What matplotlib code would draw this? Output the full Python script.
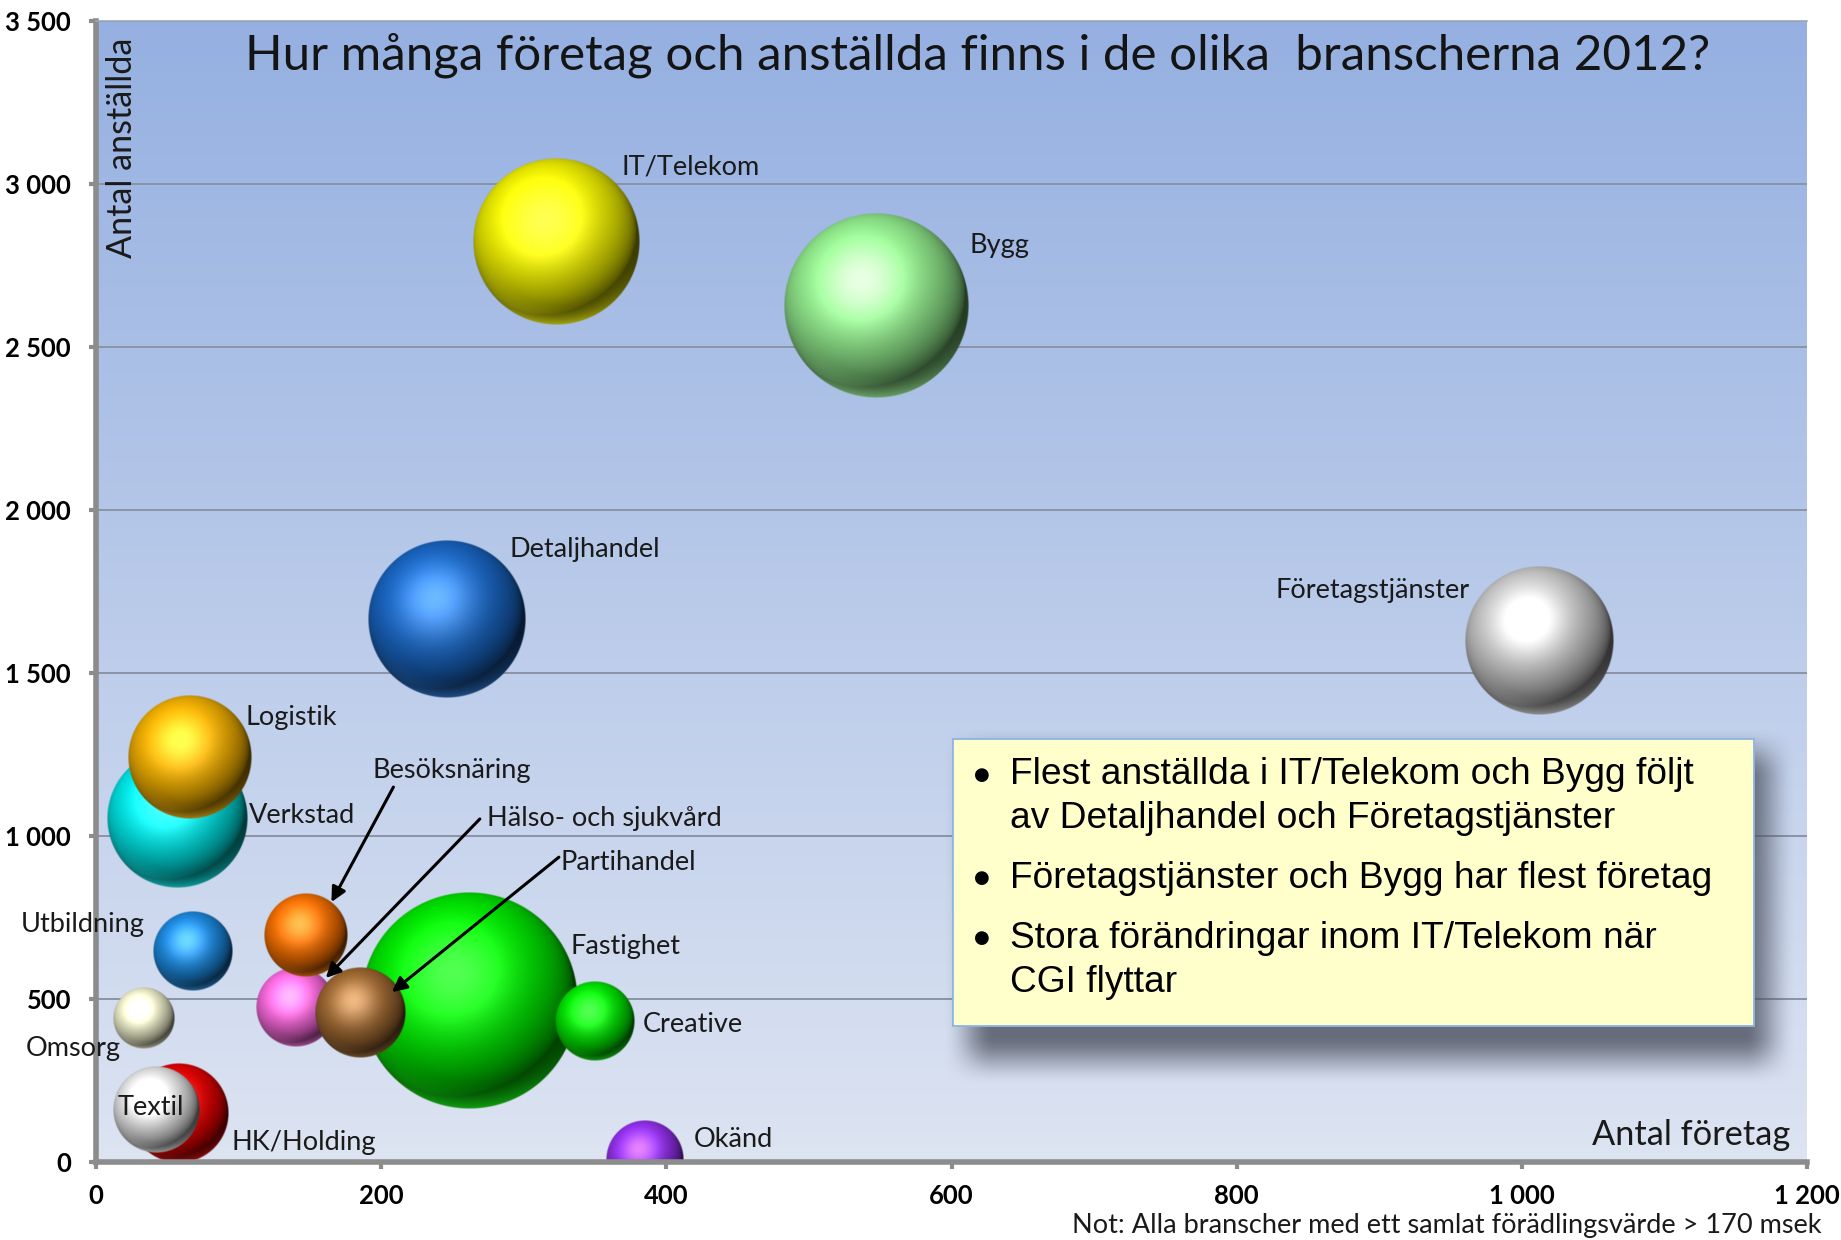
import numpy as np
import matplotlib
matplotlib.use("Agg")
import matplotlib.pyplot as plt
from matplotlib.patches import Rectangle
from matplotlib.ticker import FuncFormatter
from matplotlib.transforms import offset_copy

# ---------------- data ----------------
branches = ["IT/Telekom", "Bygg", "Detaljhandel", "Företagstjänster", "Verkstad",
            "Logistik", "Utbildning", "Omsorg", "Fastighet", "Creative",
            "Hälso- och sjukvård", "Besöksnäring", "Partihandel", "HK/Holding",
            "Textil", "Okänd"]
antal_foretag = [323, 547, 246, 1012, 57, 66, 68, 34, 262, 350, 140, 147, 185, 58, 42, 385]
antal_anstallda = [2823, 2625, 1664, 1600, 1054, 1241, 647, 441, 494, 432, 475, 696, 457, 150, 159, 8]
bubble_size = [69, 85, 62, 55, 49, 38, 16, 9.6, 117, 16, 16, 17.6, 20.3, 25, 18.5, 15.2]
bubble_colors = ["#e8e800", "#8fe68a", "#1862bc", "#c4c4c4", "#00e0e0",
                 "#eaaa00", "#1a82d4", "#e8e8c6", "#00e000", "#00dc00",
                 "#f064d4", "#ea6a00", "#96622e", "#de0000", "#dedede", "#8e2ee4"]
y_ticks = [0, 500, 1000, 1500, 2000, 2500, 3000, 3500]
x_ticks = [0, 200, 400, 600, 800, 1000, 1200]

title = "Hur många företag och anställda finns i de olika  branscherna 2012?"
bullets = [["Flest anställda i IT/Telekom och Bygg följt", "av Detaljhandel och Företagstjänster"],
           ["Företagstjänster och Bygg har flest företag"],
           ["Stora förändringar inom IT/Telekom när", "CGI flyttar"]]
note = "Not: Alla branscher med ett samlat förädlingsvärde > 170 msek"

# label placement (pixel offsets from bubble centre: dx, dy(up), ha)
label_off = {
    "IT/Telekom": (65, 75, "left"), "Bygg": (94, 61, "left"),
    "Detaljhandel": (63, 70, "left"), "Företagstjänster": (-69, 50, "right"),
    "Verkstad": (72, 3, "left"), "Logistik": (55, 40, "left"),
    "Utbildning": (-48, 27, "right"), "Omsorg": (-24, -30, "right"),
    "Fastighet": (101, 54, "left"), "Creative": (48, -3, "left"),
    "Hälso- och sjukvård": (191, 189, "left"), "Besöksnäring": (67, 165, "left"),
    "Partihandel": (201, 151, "left"), "HK/Holding": (53, -29, "left"),
    "Textil": (-5, 3, "center"), "Okänd": (49, 20, "left"),
}
# arrows: (angle on bubble edge in deg, fraction of radius, start dx, start dy(up) rel. tip)
arrow_def = {
    "Besöksnäring": (52, 1.0, 62, 115),
    "Hälso- och sjukvård": (44, 1.05, 154, 159),
    "Partihandel": (33, 0.85, 167, 135),
}
draw_order = ["Verkstad", "Logistik", "IT/Telekom", "Bygg", "Detaljhandel",
              "Företagstjänster", "Utbildning", "Omsorg", "Fastighet", "Creative",
              "Hälso- och sjukvård", "Besöksnäring", "Partihandel", "HK/Holding",
              "Textil", "Okänd"]

FONT = ["Lato", "DejaVu Sans"]
plt.rcParams["font.family"] = FONT

W, H = 1841, 1240
fig = plt.figure(figsize=(W / 100, H / 100), dpi=100)
fig.patch.set_facecolor("white")
L0, R0, T0, B0 = 96, 1807, 21, 1162
ax = fig.add_axes([L0 / W, 1 - B0 / H, (R0 - L0) / W, (B0 - T0) / H])
ax.set_xlim(0, 1200)
ax.set_ylim(0, 3500)
ax_w, ax_h = R0 - L0, B0 - T0

# background gradient
grad = np.linspace(0, 1, 256)[:, None]
top = np.array([0.584, 0.690, 0.882])
bot = np.array([0.866, 0.894, 0.949])
bg = top[None, None, :] * (1 - grad[..., None]) + bot[None, None, :] * grad[..., None]
bg = np.repeat(bg, 2, axis=1)
ax.imshow(bg, extent=(0, 1, 0, 1), transform=ax.transAxes, aspect="auto", zorder=0.1,
          interpolation="bilinear")

# axes styling
ax.set_axisbelow(True)
ax.set_yticks(y_ticks)
ax.set_xticks(x_ticks)
fmt = FuncFormatter(lambda v, p: f"{int(v):,}".replace(",", " "))
ax.yaxis.set_major_formatter(fmt)
ax.xaxis.set_major_formatter(fmt)
ax.grid(axis="y", color="#8a94a6", lw=1.4)
ax.grid(axis="x", visible=False)
for s in ["left", "bottom"]:
    ax.spines[s].set_color("#8c8c8c")
    ax.spines[s].set_linewidth(4)
ax.spines["right"].set_visible(False)
ax.spines["top"].set_color("#9ca8ba")
ax.spines["top"].set_linewidth(1.2)
ax.tick_params(axis="both", colors="#8c8c8c", width=3, length=5, labelcolor="black")
ax.tick_params(axis="y", pad=13)
ax.tick_params(axis="x", pad=11)
for lab in ax.get_xticklabels() + ax.get_yticklabels():
    lab.set_fontweight("bold")
    lab.set_fontsize(18)


def sphere(base, r_px):
    n = int(max(80, 4 * r_px))
    lin = (np.arange(n) + 0.5) / n * 2 - 1
    u, v = np.meshgrid(lin, -lin)
    rho = np.sqrt(u ** 2 + v ** 2)
    z = np.sqrt(np.clip(1 - rho ** 2, 0, 1))
    Lv = np.array([-0.28, 0.48, 0.83]); Lv /= np.linalg.norm(Lv)
    d = np.clip(u * Lv[0] + v * Lv[1] + z * Lv[2], 0, 1)
    Hv = Lv + np.array([0, 0, 1.0]); Hv /= np.linalg.norm(Hv)
    sp = np.clip(u * Hv[0] + v * Hv[1] + z * Hv[2], 0, 1) ** 9
    b = np.array(matplotlib.colors.to_rgb(base))
    col = b[None, None, :] * (0.26 + 0.82 * d[..., None] ** 0.7) + 0.32 * sp[..., None]
    rim = np.clip((rho - 0.74) / 0.26, 0, 1) ** 1.5 * np.clip(-v / (rho + 1e-9), 0, 1) ** 2
    refl = np.clip(b * 0.9 + 0.1, 0, 1)
    col = col * (1 - 0.6 * rim[..., None]) + refl[None, None, :] * 0.6 * rim[..., None]
    col = np.clip(col, 0, 1)
    alpha = np.clip((1 - rho) * r_px, 0, 1)
    return np.dstack([col, alpha])


idx = {b: i for i, b in enumerate(branches)}
radius = {b: 10 * np.sqrt(bubble_size[idx[b]]) for b in branches}
for k, b in enumerate(draw_order):
    i = idx[b]
    x, y, r = antal_foretag[i], antal_anstallda[i], radius[b]
    rx = r * 1200 / ax_w
    ry = r * 3500 / ax_h
    ax.imshow(sphere(bubble_colors[i], r), extent=(x - rx, x + rx, y - ry, y + ry),
              aspect="auto", interpolation="bilinear", zorder=2 + k * 0.01)
ax.set_xlim(0, 1200)
ax.set_ylim(0, 3500)

fig.canvas.draw()
rend = fig.canvas.get_renderer()


def fit(t, target):
    bb = t.get_window_extent(rend)
    w = bb.width if t.get_rotation() == 0 else bb.height
    t.set_fontsize(t.get_fontsize() * target / w)


# tick label size from the width of "3 500"
ylabs = ax.get_yticklabels()
ref = [t for t in ylabs if t.get_text() == "3 500"]
if ref:
    fit(ref[0], 66)
    fs_t = ref[0].get_fontsize()
    for t in ax.get_xticklabels() + ylabs:
        t.set_fontsize(fs_t)
    ax.tick_params(axis="both", labelsize=fs_t)

# labels
lab_objs = {}
for b in branches:
    i = idx[b]
    dx, dy, ha = label_off[b]
    t = ax.annotate(b, xy=(antal_foretag[i], antal_anstallda[i]), xytext=(dx, dy),
                    textcoords="offset pixels", ha=ha, va="center", fontsize=16,
                    color="#1a1a1a", zorder=5, annotation_clip=False)
    lab_objs[b] = t
fit(lab_objs["Detaljhandel"], 152)
fs_lab = lab_objs["Detaljhandel"].get_fontsize()
for t in lab_objs.values():
    t.set_fontsize(fs_lab)

# arrows
for b, (ang, frac, sx, sy) in arrow_def.items():
    i = idx[b]
    r = radius[b] * frac
    tr = offset_copy(ax.transData, fig=fig, x=r * np.cos(np.radians(ang)),
                     y=r * np.sin(np.radians(ang)), units="dots")
    ax.annotate("", xy=(antal_foretag[i], antal_anstallda[i]), xycoords=tr,
                xytext=(sx, sy), textcoords="offset pixels",
                arrowprops=dict(arrowstyle="-|>", color="black", lw=2.2,
                                mutation_scale=22, shrinkA=0, shrinkB=0), zorder=6)

# title and axis titles (figure pixel coordinates)
def fig_text(xp, yp, s, **kw):
    return fig.text(xp / W, 1 - yp / H, s, **kw)

tt = fig_text(978, 70, title, ha="center", va="baseline", fontsize=34, color="#141414")
fit(tt, 1467)
yl = fig_text(122, 38, "Antal anställda", ha="center", va="top", rotation=90,
              fontsize=22, color="#1a1a1a")
fit(yl, 220)
xl = fig_text(1790, 1145, "Antal företag", ha="right", va="baseline", fontsize=22,
              color="#1a1a1a")
fit(xl, 198)
nt = fig_text(1822, 1233, note, ha="right", va="baseline", fontsize=17, color="#1a1a1a")
fit(nt, 748)

# text box with shadow
bx0, bx1, by0, by1 = 953, 1754, 739, 1026
sx0, sx1, sy0, sy1, blur = 968, 1770, 752, 1060, 26
gw, gh = (sx1 - sx0) + 2 * blur, (sy1 - sy0) + 2 * blur
xs = np.arange(gw) - blur
ys = np.arange(gh) - blur
fx_ = np.clip(np.minimum(xs + blur, (sx1 - sx0) + blur - xs) / (2 * blur), 0, 1)
fy_ = np.clip(np.minimum(ys + blur, (sy1 - sy0) + blur - ys) / (2 * blur), 0, 1)
sm = lambda a: a * a * (3 - 2 * a)
alpha = (sm(fx_)[None, :] * sm(fy_)[:, None]) * 0.78
shadow = np.zeros((gh, gw, 4))
shadow[..., :3] = np.array([0.28, 0.30, 0.36])
shadow[..., 3] = alpha
fig.figimage(shadow, xo=sx0 - blur, yo=H - (sy1 + blur), origin="upper", zorder=3)
fig.add_artist(Rectangle(((bx0) / W, 1 - by1 / H), (bx1 - bx0) / W, (by1 - by0) / H,
                         transform=fig.transFigure, facecolor="#ffffcc",
                         edgecolor="#8db4e2", lw=1.3, zorder=4))
line_y = [[775, 818], [878], [938, 982]]
BOXFONT = ["Liberation Sans Narrow", "Liberation Sans", "DejaVu Sans"]
box_texts = []
for lines, ys_ in zip(bullets, line_y):
    fig_text(982, ys_[0], "●", ha="center", va="center", fontsize=13,
             family=["DejaVu Sans"], color="black", zorder=5)
    for s, yy in zip(lines, ys_):
        box_texts.append(fig_text(1010, yy, s, ha="left", va="center", fontsize=24,
                                  family=BOXFONT, color="black", zorder=5))
fit(box_texts[2], 701)
fsb = box_texts[2].get_fontsize()
for t in box_texts:
    t.set_fontsize(fsb)

fig.savefig("out.png", dpi=100, facecolor="white")
